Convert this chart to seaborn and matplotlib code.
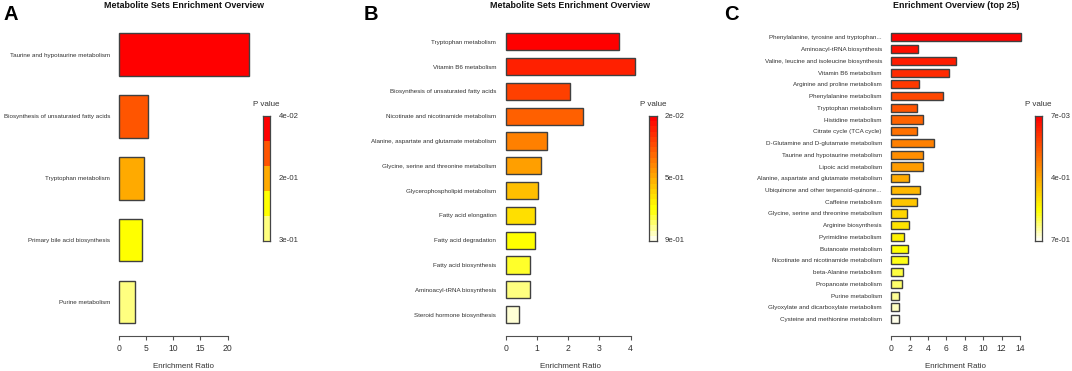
import colorsys

import matplotlib
matplotlib.use("Agg")
import matplotlib.pyplot as plt
import numpy as np
import seaborn as sns
from matplotlib.colors import ListedColormap

sns.set_style("white")
plt.rcParams["font.family"] = ["Liberation Sans", "DejaVu Sans"]

# ---- data ------------------------------------------------------------------
names_a = ["Taurine and hypotaurine metabolism",
           "Biosynthesis of unsaturated fatty acids",
           "Tryptophan metabolism",
           "Primary bile acid biosynthesis",
           "Purine metabolism"]
ratio_a = [23.9, 5.3, 4.6, 4.2, 2.9]
ticks_a = [0, 5, 10, 15, 20]
pvals_a = ["4e-02", "2e-01", "3e-01"]

names_b = ["Tryptophan metabolism",
           "Vitamin B6 metabolism",
           "Biosynthesis of unsaturated fatty acids",
           "Nicotinate and nicotinamide metabolism",
           "Alanine, aspartate and glutamate metabolism",
           "Glycine, serine and threonine metabolism",
           "Glycerophospholipid metabolism",
           "Fatty acid elongation",
           "Fatty acid degradation",
           "Fatty acid biosynthesis",
           "Aminoacyl-tRNA biosynthesis",
           "Steroid hormone biosynthesis"]
ratio_b = [3.63, 4.14, 2.05, 2.47, 1.32, 1.12, 1.02, 0.95, 0.95, 0.78, 0.78, 0.43]
ticks_b = [0, 1, 2, 3, 4]
pvals_b = ["2e-02", "5e-01", "9e-01"]

names_c = ["Phenylalanine, tyrosine and tryptophan...",
           "Aminoacyl-tRNA biosynthesis",
           "Valine, leucine and isoleucine biosynthesis",
           "Vitamin B6 metabolism",
           "Arginine and proline metabolism",
           "Phenylalanine metabolism",
           "Tryptophan metabolism",
           "Histidine metabolism",
           "Citrate cycle (TCA cycle)",
           "D-Glutamine and D-glutamate metabolism",
           "Taurine and hypotaurine metabolism",
           "Lipoic acid metabolism",
           "Alanine, aspartate and glutamate metabolism",
           "Ubiquinone and other terpenoid-quinone...",
           "Caffeine metabolism",
           "Glycine, serine and threonine metabolism",
           "Arginine biosynthesis",
           "Pyrimidine metabolism",
           "Butanoate metabolism",
           "Nicotinate and nicotinamide metabolism",
           "beta-Alanine metabolism",
           "Propanoate metabolism",
           "Purine metabolism",
           "Glyoxylate and dicarboxylate metabolism",
           "Cysteine and methionine metabolism"]
ratio_c = [14.08, 2.94, 7.04, 6.24, 2.98, 5.59, 2.76, 3.49, 2.76, 4.68,
           3.49, 3.49, 1.96, 3.09, 2.76, 1.74, 1.96, 1.41, 1.85, 1.85,
           1.31, 1.20, 0.87, 0.87, 0.87]
ticks_c = [0, 2, 4, 6, 8, 10, 12, 14]
pvals_c = ["7e-03", "4e-01", "7e-01"]

W, H = 1072, 371
EDGE = "#404040"
TXT = "#333333"


def heat_colors(n):
    # same ramp as R's heat.colors()
    j = n // 4
    i = n - j
    cols = [colorsys.hsv_to_rgb((1 / 6) * k / max(i - 1, 1), 1, 1) for k in range(i)]
    if j > 0:
        for s in np.linspace(1 - 1 / (2 * j), 1 / (2 * j), j):
            cols.append(colorsys.hsv_to_rgb(1 / 6, s, 1))
    return cols


def px_axes(fig, left, top, right, bottom):
    return fig.add_axes([left / W, 1 - bottom / H, (right - left) / W, (bottom - top) / H])


def panel(fig, left, letter, letter_x, title, names, ratio, ticks, pvals, cb_left, cb_steps):
    top, bottom = 20.5, 336
    width = 139.7
    ax = px_axes(fig, left, top, left + width, bottom)
    n = len(names)
    h = 0.69
    sns.barplot(x=ratio, y=names, hue=names, palette=heat_colors(n), legend=False,
                orient="h", width=h, saturation=1, edgecolor=EDGE, linewidth=1.0, ax=ax)
    span = n - 1 + h
    pad = 12.8 / 290.2 * span
    ax.set_ylim(n - 1 + h / 2 + pad, -h / 2 - pad)
    m = max(ratio)
    ax.set_xlim(-0.04 * m, 1.04 * m)
    ax.set_xticks(ticks)
    ax.set_xticklabels([str(t) for t in ticks])
    for s in ("left", "top", "right"):
        ax.spines[s].set_visible(False)
    ax.spines["bottom"].set_bounds(ticks[0], ticks[-1])
    ax.spines["bottom"].set_color("#505050")
    ax.spines["bottom"].set_linewidth(0.8)
    ax.tick_params(axis="x", bottom=True, length=3, width=0.8, color="#505050",
                   pad=3.0, labelsize=6.2, labelcolor=TXT)
    ax.tick_params(axis="y", left=False, length=0, pad=3, labelsize=4.5, labelcolor=TXT)
    ax.set_ylabel("")
    ax.set_xlabel("Enrichment Ratio", fontsize=5.8, color=TXT)
    ax.xaxis.set_label_coords(0.5, -(367 - bottom) / (bottom - top))
    ax.xaxis.label.set_va("center")
    ax.grid(False)

    cx = left + width / 2
    fig.text(cx / W, 1 - 6 / H, title, ha="center", va="center",
             fontsize=6.4, fontweight="bold", color="#111111")
    fig.text(letter_x / W, 1 - 14.5 / H, letter, ha="left", va="center",
             fontsize=14.5, fontweight="bold", color="black")

    # discrete colour key for the p values
    cb_top, cb_bot = 116, 241
    cax = px_axes(fig, cb_left, cb_top, cb_left + 7.3, cb_bot)
    cax.imshow(np.arange(cb_steps)[:, None], cmap=ListedColormap(heat_colors(cb_steps)),
               aspect="auto", interpolation="nearest")
    cax.set_xticks([]); cax.set_yticks([])
    for s in cax.spines.values():
        s.set_color("#454545"); s.set_linewidth(0.9); s.set_visible(True)
    lx = (cb_left + 7.3 + 8.5) / W
    for frac, lab in zip([0, 0.5, 1], pvals):
        y = cb_top + frac * (cb_bot - cb_top)
        fig.text(lx, 1 - y / H, lab, ha="left", va="center", fontsize=5.6, color=TXT)
    fig.text((cb_left + 3.65) / W, 1 - 104 / H, "P value", ha="center", va="center",
             fontsize=5.8, color=TXT)


fig = plt.figure(figsize=(W / 100, H / 100), dpi=100)
panel(fig, 114.1, "A", 4, "Metabolite Sets Enrichment Overview",
      names_a, ratio_a, ticks_a, pvals_a, 262.7, 5)
panel(fig, 500.5, "B", 364, "Metabolite Sets Enrichment Overview",
      names_b, ratio_b, ticks_b, pvals_b, 649.3, 24)
panel(fig, 886.1, "C", 724, "Enrichment Overview (top 25)",
      names_c, ratio_c, ticks_c, pvals_c, 1035.0, 50)
fig.savefig("out.png", dpi=100)
